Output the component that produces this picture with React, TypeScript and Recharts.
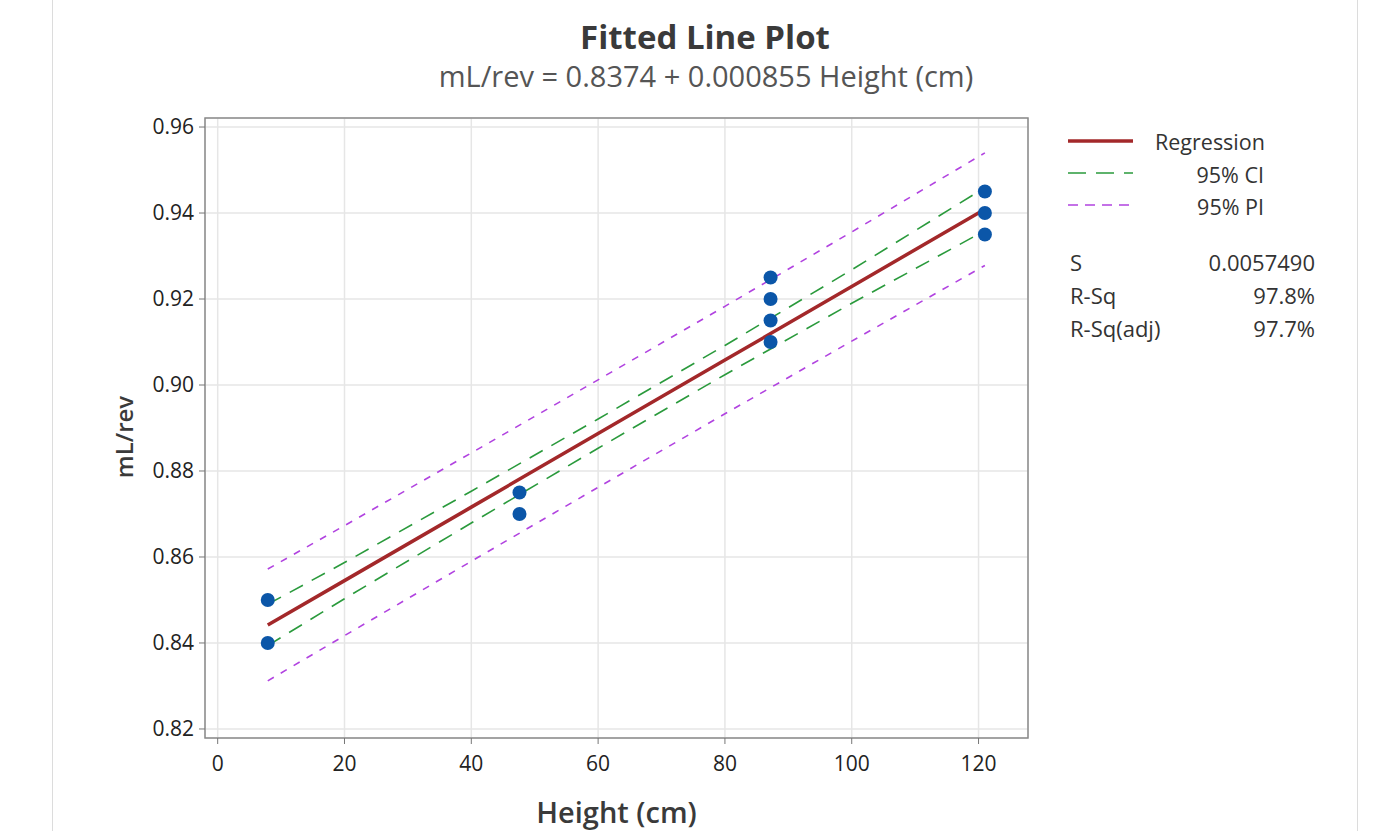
import React from "react";
import {
  ComposedChart,
  Line,
  Scatter,
  XAxis,
  YAxis,
  CartesianGrid,
  ReferenceArea,
} from "recharts";

// Observed data
const heightObs = [7.9, 7.9, 47.6, 47.6, 87.2, 87.2, 87.2, 87.2, 121, 121, 121];
const mlRevObs = [0.85, 0.84, 0.875, 0.87, 0.925, 0.92, 0.915, 0.91, 0.945, 0.94, 0.935];

// Fitted line and bands
const bandX = [7.9, 20, 40, 60, 80, 100, 121];
const regression = [0.8442, 0.8545, 0.8716, 0.8887, 0.9058, 0.9229, 0.9409];
const ciUpper = [0.849, 0.8587, 0.8753, 0.8921, 0.9092, 0.9268, 0.9459];
const ciLower = [0.8394, 0.8503, 0.8679, 0.8853, 0.9024, 0.919, 0.9359];
const piUpper = [0.8572, 0.8673, 0.8842, 0.9012, 0.9183, 0.9356, 0.954];
const piLower = [0.8312, 0.8417, 0.859, 0.8762, 0.8933, 0.9102, 0.9278];

const xTicks = [0, 20, 40, 60, 80, 100, 120];
const yTicks = [0.82, 0.84, 0.86, 0.88, 0.9, 0.92, 0.94, 0.96];
const xDomain = [-2, 127.8];
const yDomain = [0.8179, 0.9621];

const statLabels = ["S", "R-Sq", "R-Sq(adj)"];
const statValues = ["0.0057490", "97.8%", "97.7%"];

const FONT = "'Open Sans', 'Noto Sans', sans-serif";

const toPts = (xs: number[], ys: number[]) => xs.map((x, i) => ({ x, y: ys[i] }));

const obsData = toPts(heightObs, mlRevObs);
const regData = toPts(bandX, regression);
const ciUData = toPts(bandX, ciUpper);
const ciLData = toPts(bandX, ciLower);
const piUData = toPts(bandX, piUpper);
const piLData = toPts(bandX, piLower);

const C_REG = "#a3282a";
const C_CI = "#2a9a3c";
const C_PI = "#b143e0";
const C_PT = "#0b56a8";

export default function App() {
  return (
    <div style={{ position: "absolute", left: 0, top: 0, width: 1380, height: 831, background: "#fff", fontFamily: FONT }}>
      <div style={{ position: "absolute", left: 52, top: 0, width: 1, height: 831, background: "#dcdcdc" }} />
      <div style={{ position: "absolute", left: 1357, top: 0, width: 1, height: 831, background: "#dcdcdc" }} />
      <div style={{ position: "absolute", left: 0, top: 0 }}>
        <ComposedChart
          width={1380}
          height={831}
          margin={{ top: 118, right: 352, left: 0, bottom: 0 }}
        >
          <CartesianGrid stroke="#e6e6e6" strokeWidth={1.5} />
          <XAxis
            dataKey="x"
            type="number"
            domain={xDomain}
            ticks={xTicks}
            allowDataOverflow
            height={93}
            axisLine={false}
            tickLine={{ stroke: "#777" }}
            tickSize={6}
            tick={{ fill: "#222", fontSize: 21, fontFamily: FONT, dy: 10 }}
            label={{ value: "Height (cm)", position: "insideBottom", offset: 8, fill: "#3a3a3a", fontSize: 29, fontWeight: 600, fontFamily: FONT }}
          />
          <YAxis
            dataKey="y"
            type="number"
            domain={yDomain}
            ticks={yTicks}
            allowDataOverflow
            width={205}
            axisLine={false}
            tickLine={{ stroke: "#777" }}
            tickSize={6}
            tickFormatter={(v: number) => v.toFixed(2)}
            tick={{ fill: "#222", fontSize: 21, fontFamily: FONT, dx: -3 }}
          />
          <ReferenceArea x1={xDomain[0]} x2={xDomain[1]} y1={yDomain[0]} y2={yDomain[1]} fill="none" stroke="#8a8a8a" strokeWidth={1.5} />
          <Line data={piUData} dataKey="y" stroke={C_PI} strokeWidth={1.6} strokeDasharray="7 8" dot={false} isAnimationActive={false} />
          <Line data={piLData} dataKey="y" stroke={C_PI} strokeWidth={1.6} strokeDasharray="7 8" dot={false} isAnimationActive={false} />
          <Line data={ciUData} dataKey="y" stroke={C_CI} strokeWidth={1.6} strokeDasharray="15 10" dot={false} isAnimationActive={false} />
          <Line data={ciLData} dataKey="y" stroke={C_CI} strokeWidth={1.6} strokeDasharray="15 10" dot={false} isAnimationActive={false} />
          <Line data={regData} dataKey="y" stroke={C_REG} strokeWidth={3.5} dot={false} isAnimationActive={false} />
          <Scatter data={obsData} dataKey="y" fill={C_PT} shape={(p: any) => <circle cx={p.cx} cy={p.cy} r={7} fill={C_PT} />} isAnimationActive={false} />
        </ComposedChart>
      </div>
      <svg width={1380} height={831} style={{ position: "absolute", left: 0, top: 0, pointerEvents: "none" }}>
        <text x={705} y={49} textAnchor="middle" fontSize={33} fontWeight={700} fill="#3a3a3a" fontFamily={FONT}>Fitted Line Plot</text>
        <text x={706} y={87} textAnchor="middle" fontSize={29} fill="#555" fontFamily={FONT}>mL/rev = 0.8374 + 0.000855 Height (cm)</text>
        <text x={123} y={437} transform="rotate(-90, 123, 437)" textAnchor="middle" dominantBaseline="central" fontSize={24} fontWeight={600} fill="#3a3a3a" fontFamily={FONT}>mL/rev</text>
        <line x1={1068} y1={141} x2={1133} y2={141} stroke={C_REG} strokeWidth={3.5} />
        <line x1={1068} y1={173} x2={1133} y2={173} stroke={C_CI} strokeWidth={1.6} strokeDasharray="18 10" />
        <line x1={1068} y1={205} x2={1133} y2={205} stroke={C_PI} strokeWidth={1.6} strokeDasharray="10 7" />
        <text x={1155} y={150} fontSize={21.5} fill="#333" fontFamily={FONT}>Regression</text>
        <text x={1264} y={183} textAnchor="end" fontSize={21.5} fill="#333" fontFamily={FONT}>95% CI</text>
        <text x={1264} y={215} textAnchor="end" fontSize={21.5} fill="#333" fontFamily={FONT}>95% PI</text>
        {statLabels.map((s, i) => (
          <text key={s} x={1070} y={271 + i * 33} fontSize={22} fill="#333" fontFamily={FONT}>{s}</text>
        ))}
        {statValues.map((s, i) => (
          <text key={s + i} x={1315} y={271 + i * 33} textAnchor="end" fontSize={22} fill="#333" fontFamily={FONT}>{s}</text>
        ))}
      </svg>
    </div>
  );
}
